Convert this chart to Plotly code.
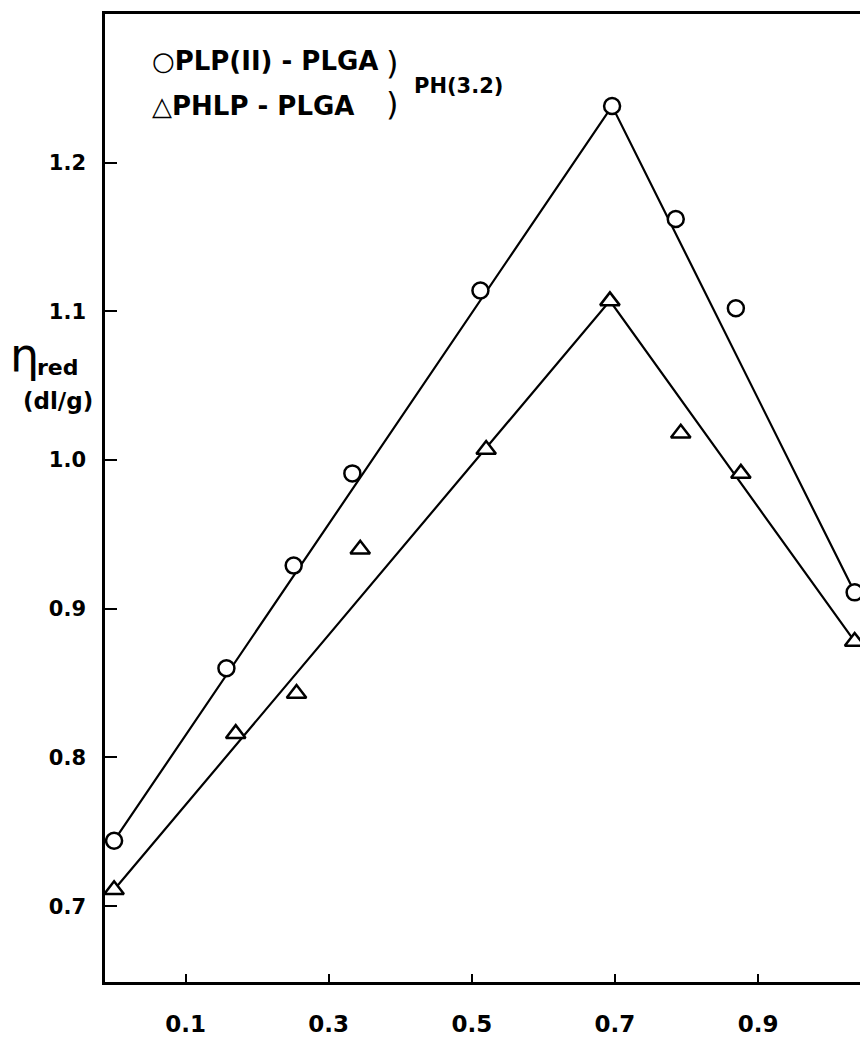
import plotly.graph_objects as go

# Composition (x) and reduced viscosity eta_red (dl/g) of the two polymer complexes
plp_x = [0.0, 0.157, 0.251, 0.333, 0.512, 0.696, 0.785, 0.869, 1.035]
plp_eta = [0.744, 0.860, 0.929, 0.991, 1.114, 1.238, 1.162, 1.102, 0.911]
phlp_x = [0.0, 0.170, 0.255, 0.344, 0.520, 0.693, 0.792, 0.876, 1.035]
phlp_eta = [0.711, 0.816, 0.843, 0.940, 1.007, 1.107, 1.018, 0.991, 0.878]

# Hand-fitted straight lines through each series (rise to the maximum, then fall)
plp_line_x = [0.0, 0.696, 1.035]
plp_line_eta = [0.744, 1.238, 0.911]
phlp_line_x = [0.0, 0.693, 1.035]
phlp_line_eta = [0.711, 1.107, 0.878]

x_ticks = [0.1, 0.3, 0.5, 0.7, 0.9]
x_ticklabels = ["0.1", "0.3", "0.5", "0.7", "0.9"]
y_ticks = [0.7, 0.8, 0.9, 1.0, 1.1, 1.2]
y_ticklabels = ["0.7", "0.8", "0.9", "1.0", "1.1", "1.2"]

W, H = 860, 1037
L, R, T, B = 105, 0, 14, 52
FONT = "DejaVu Sans"


def px(xp, yp):
    """Pixel position on the page -> paper coordinates."""
    return (xp - L) / (W - L - R), (H - B - yp) / (H - T - B)


fig = go.Figure()

for lx, ly in [(plp_line_x, plp_line_eta), (phlp_line_x, phlp_line_eta)]:
    fig.add_trace(go.Scatter(x=lx, y=ly, mode="lines",
                             line=dict(color="black", width=2.2),
                             showlegend=False, hoverinfo="skip"))

fig.add_trace(go.Scatter(x=plp_x, y=plp_eta, mode="markers", name="PLP(II) - PLGA",
                         marker=dict(symbol="circle", size=16, color="white",
                                     line=dict(color="black", width=2.5)),
                         showlegend=False))
fig.add_trace(go.Scatter(x=phlp_x, y=phlp_eta, mode="markers", name="PHLP - PLGA",
                         marker=dict(symbol="triangle-up", size=17, color="white",
                                     line=dict(color="black", width=2.5)),
                         showlegend=False))

ann = []


def text(xp, yp, s, size, xanchor="left", yanchor="middle", weight="bold"):
    ax, ay = px(xp, yp)
    ann.append(dict(x=ax, y=ay, xref="paper", yref="paper", text=s, showarrow=False,
                    xanchor=xanchor, yanchor=yanchor,
                    font=dict(family=FONT, size=size, color="black", weight=weight)))


# Key in the upper-left corner, grouped by a bracket labelled with the polymer
text(150, 61, "○PLP(II) - PLGA", 26)
text(150, 106, "△PHLP - PLGA", 26)
text(384, 63, ")", 32, weight="normal")
text(384, 104, ")", 32, weight="normal")
text(412, 86, "PH(3.2)", 21)

# y-axis title
text(24, 356, "η", 46, xanchor="center", weight="normal")
text(58, 369, "red", 22, xanchor="center")
text(58, 402, "(dl/g)", 23, xanchor="center")

fig.update_layout(
    width=W, height=H,
    margin=dict(l=L, r=R, t=T, b=B, pad=0),
    paper_bgcolor="white", plot_bgcolor="white",
    font=dict(family=FONT, color="black"),
    annotations=ann,
    xaxis=dict(range=[-0.0127, 1.0425], tickvals=x_ticks, ticktext=x_ticklabels,
               ticks="inside", ticklen=8, tickwidth=2, tickcolor="black",
               showline=True, linewidth=2.5, linecolor="black", mirror=True,
               showgrid=False, zeroline=False, ticklabelstandoff=20,
               tickfont=dict(family=FONT, size=23, color="black", weight="bold")),
    yaxis=dict(range=[0.649, 1.2999], tickvals=y_ticks, ticktext=y_ticklabels,
               ticks="inside", ticklen=12, tickwidth=2, tickcolor="black",
               showline=True, linewidth=2.5, linecolor="black", mirror=False,
               showgrid=False, zeroline=False, ticklabelstandoff=12,
               tickfont=dict(family=FONT, size=21, color="black", weight="bold")),
)

fig.write_html("out.html")
